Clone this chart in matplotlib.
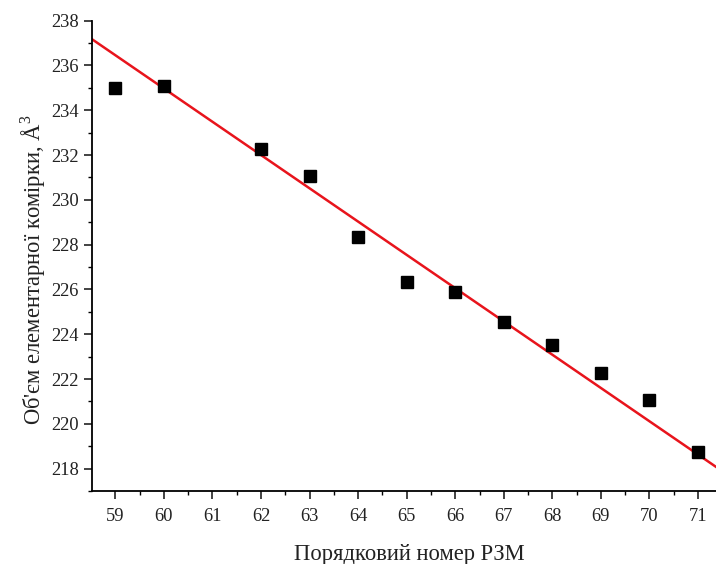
import matplotlib
matplotlib.use("Agg")
import matplotlib.pyplot as plt
import numpy as np
from matplotlib.ticker import MultipleLocator

# atomic number of the rare-earth element and unit-cell volume (A^3)
z_num = [59, 60, 62, 63, 64, 65, 66, 67, 68, 69, 70, 71]
volume = [234.98, 235.10, 232.27, 231.06, 228.34, 226.33,
          225.90, 224.56, 223.54, 222.27, 221.08, 218.74]

# linear fit drawn on the chart
fit_slope = -1.486
fit_intercept = 236.46 - fit_slope * 59

x_label = "Порядковий номер РЗМ"
y_label = "Об'єм елементарної комірки, Å$^3$"

plt.rcParams['font.family'] = ['Liberation Serif', 'DejaVu Serif']
plt.rcParams['mathtext.fontset'] = 'custom'
plt.rcParams['mathtext.rm'] = 'Liberation Serif'

fig = plt.figure(figsize=(7.16, 5.64), dpi=100)
ax = fig.add_axes([0.1285, 0.1294, 0.8715, 0.8339])

xmin, xmax = 58.52, 71.37
xs = np.array([xmin, xmax])
ax.plot(xs, fit_intercept + fit_slope * xs, color='#e8141c', lw=1.8, zorder=2)
ax.plot(z_num, volume, 's', color='black', ms=8.6, zorder=3)

ax.set_xlim(xmin, xmax)
ax.set_ylim(217.0, 238.0)

ax.xaxis.set_major_locator(MultipleLocator(1))
ax.xaxis.set_minor_locator(MultipleLocator(0.5))
ax.yaxis.set_major_locator(MultipleLocator(2))
ax.yaxis.set_minor_locator(MultipleLocator(1))

for s in ['top', 'right']:
    ax.spines[s].set_visible(False)
for s in ['left', 'bottom']:
    ax.spines[s].set_linewidth(1.3)

ax.tick_params(which='major', direction='out', length=5.8, width=1.2,
               labelsize=13.3, colors='#222222')
ax.tick_params(which='minor', direction='out', length=3, width=1.0)
ax.tick_params(axis='x', pad=6.5)
ax.tick_params(axis='y', pad=3.5)

ax.set_xlabel(x_label, fontsize=16.3, color='#222222')
ax.set_ylabel(y_label, fontsize=16.3, color='#222222')
ax.xaxis.set_label_coords(0.509, -0.112)
ax.yaxis.set_label_coords(-0.07, 0.47)

fig.savefig("out.png", dpi=100)
